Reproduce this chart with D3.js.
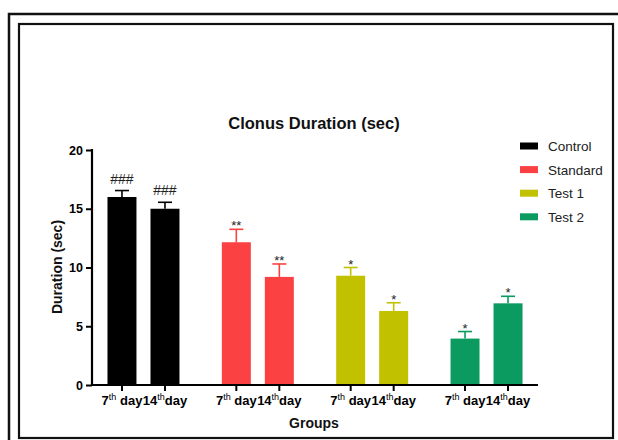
<!DOCTYPE html>
<html><head><meta charset="utf-8">
<script src="https://cdn.jsdelivr.net/npm/d3@7"></script>
<style>
html,body{margin:0;padding:0;background:#fff;}
svg{display:block;font-family:"Liberation Sans",Arial,sans-serif;}
</style></head>
<body>
<svg id="c" width="618" height="440"></svg>
<script>
const groups = ["Control", "Standard", "Test 1", "Test 2"];
const days = ["7", "14"];
const means = [[16.0, 15.0], [12.15, 9.2], [9.3, 6.3], [3.95, 6.95]];
const sems = [[0.55, 0.55], [1.1, 1.1], [0.7, 0.7], [0.6, 0.6]];
const marks = [["###", "###"], ["**", "**"], ["*", "*"], ["*", "*"]];
const colors = ["#000000", "#fb4141", "#c1c100", "#0b9a60"];
const yTicks = [0, 5, 10, 15, 20];

const svg = d3.select("#c");
// frames
svg.append("rect").attr("x", 9).attr("y", 14).attr("width", 640).attr("height", 460)
  .attr("fill", "none").attr("stroke", "#111").attr("stroke-width", 2.5);
svg.append("rect").attr("x", 19).attr("y", 24).attr("width", 594).attr("height", 414)
  .attr("fill", "none").attr("stroke", "#111").attr("stroke-width", 2.2);

const y = d3.scaleLinear().domain([0, 20]).range([385, 150]);
const xg = d3.scaleBand().domain(groups).range([86.3, 543.7]);
const xi = d3.scaleBand().domain(days).range([-43, 43]).paddingInner(0.326).paddingOuter(0.163);
const cx = (g, d) => xg(g) + xg.bandwidth() / 2 + xi(d) + xi.bandwidth() / 2;

const data = [];
groups.forEach((g, gi) => days.forEach((d, di) => data.push({g, d, gi, v: means[gi][di], e: sems[gi][di], m: marks[gi][di]})));

// bars
svg.selectAll("rect.bar").data(data).enter().append("rect").attr("class", "bar")
  .attr("x", d => cx(d.g, d.d) - xi.bandwidth() / 2)
  .attr("width", xi.bandwidth())
  .attr("y", d => y(d.v))
  .attr("height", d => y(0) - y(d.v))
  .attr("fill", d => colors[d.gi]);

// error bars
const eb = svg.selectAll("g.eb").data(data).enter().append("g")
  .attr("stroke", d => colors[d.gi]).attr("stroke-width", 1.6);
eb.append("line").attr("x1", d => cx(d.g, d.d)).attr("x2", d => cx(d.g, d.d))
  .attr("y1", d => y(d.v)).attr("y2", d => y(d.v + d.e));
eb.append("line").attr("x1", d => cx(d.g, d.d) - 7).attr("x2", d => cx(d.g, d.d) + 7)
  .attr("y1", d => y(d.v + d.e)).attr("y2", d => y(d.v + d.e));

// significance marks
svg.selectAll("text.mk").data(data).enter().append("text")
  .attr("x", d => cx(d.g, d.d))
  .attr("y", d => y(d.v + d.e) - (d.m[0] === "#" ? 7 : -1))
  .attr("text-anchor", "middle").attr("font-size", d => d.m[0] === "#" ? 14 : 13)
  .attr("fill", "#222").text(d => d.m);

// y axis
const yAxis = d3.axisLeft(y).tickValues(yTicks).tickSize(6).tickPadding(3);
const gy = svg.append("g").attr("transform", "translate(92,0)").call(yAxis);
gy.select(".domain").attr("stroke", "#000").attr("stroke-width", 2.2).attr("d", "M0,149V386");
gy.selectAll(".tick line").attr("stroke", "#000").attr("stroke-width", 2);
gy.selectAll(".tick text").attr("font-size", 12.5).attr("font-weight", "bold").attr("fill", "#000")
  .attr("font-family", '"Liberation Sans",Arial,sans-serif');

// x axis
svg.append("line").attr("x1", 91).attr("x2", 538).attr("y1", 385).attr("y2", 385)
  .attr("stroke", "#000").attr("stroke-width", 2.2);
const xt = svg.selectAll("g.xt").data(data).enter().append("g")
  .attr("transform", d => `translate(${cx(d.g, d.d)},385)`);
xt.append("line").attr("y1", 0).attr("y2", 6).attr("stroke", "#000").attr("stroke-width", 2);
const lab = xt.append("text").attr("y", 20).attr("text-anchor", "middle")
  .attr("font-size", 13).attr("font-weight", "bold").attr("fill", "#000");
lab.append("tspan").text(d => d.d);
lab.append("tspan").attr("dy", -5).attr("font-size", 9).attr("font-weight", "normal").text("th");
lab.append("tspan").attr("dy", 5).text(d => d.d === "7" ? " day" : "day");

// titles
svg.append("text").attr("x", 314).attr("y", 129).attr("text-anchor", "middle")
  .attr("font-size", 16.5).attr("font-weight", "bold").attr("fill", "#111").text("Clonus Duration (sec)");
svg.append("text").attr("transform", "translate(62,267) rotate(-90)").attr("text-anchor", "middle")
  .attr("font-size", 14).attr("font-weight", "bold").attr("fill", "#111").text("Duration (sec)");
svg.append("text").attr("x", 314).attr("y", 428).attr("text-anchor", "middle")
  .attr("font-size", 14).attr("font-weight", "bold").attr("fill", "#111").text("Groups");

// legend
const lg = svg.selectAll("g.lg").data(groups).enter().append("g")
  .attr("transform", (d, i) => `translate(520,${146 + i * 23.6})`);
lg.append("rect").attr("x", 0).attr("y", -3.5).attr("width", 18).attr("height", 7)
  .attr("fill", (d, i) => colors[i]);
lg.append("text").attr("x", 28).attr("y", 5).attr("font-size", 13.5).attr("fill", "#222").text(d => d);
</script>
</body></html>
